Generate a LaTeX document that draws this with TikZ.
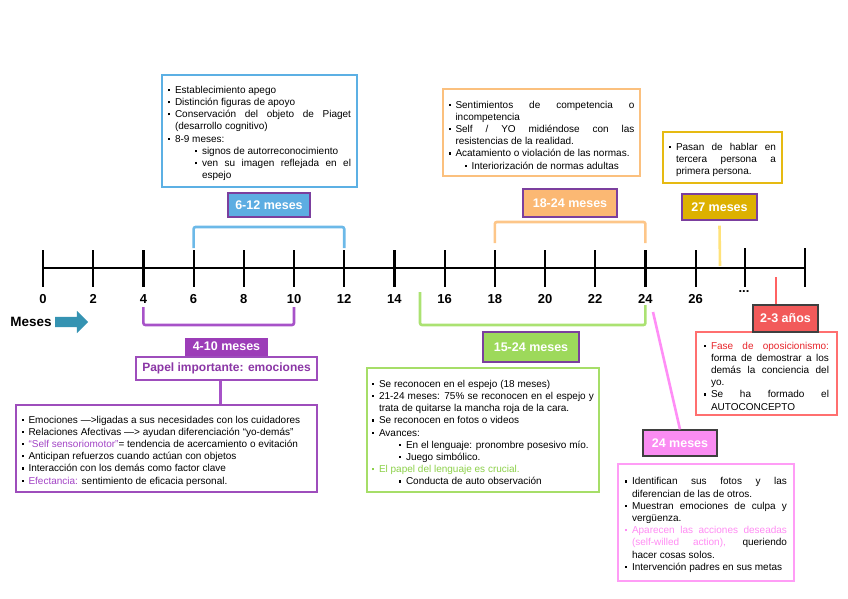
\documentclass[tikz,border=0pt]{standalone}
\usepackage{fontspec}
\setmainfont{Liberation Sans}
\usetikzlibrary{positioning,shapes.arrows}

\definecolor{tagline}{HTML}{7B3F9E}
\definecolor{tagdark}{HTML}{3F3F3F}
\definecolor{c612}{HTML}{5DADE2}
\definecolor{c612box}{HTML}{5CB0E4}
\definecolor{c612line}{HTML}{6CB9E8}
\definecolor{c1824}{HTML}{FBB873}
\definecolor{c1824box}{HTML}{FBC07E}
\definecolor{c1824line}{HTML}{FDC689}
\definecolor{c27}{HTML}{DDB100}
\definecolor{c27box}{HTML}{E6BA12}
\definecolor{c27line}{HTML}{FFE27A}
\definecolor{c410}{HTML}{9C3DB8}
\definecolor{c410box}{HTML}{9E4DBC}
\definecolor{c410line}{HTML}{A752C8}
\definecolor{c410txt}{HTML}{8B36A6}
\definecolor{c1524}{HTML}{9DD95B}
\definecolor{c1524box}{HTML}{A6DE68}
\definecolor{c1524line}{HTML}{ABE272}
\definecolor{c24}{HTML}{FA8CF2}
\definecolor{c24box}{HTML}{FF9DF6}
\definecolor{c24line}{HTML}{FF8EF6}
\definecolor{c23}{HTML}{F25A5A}
\definecolor{c23box}{HTML}{FF6F6F}
\definecolor{c23line}{HTML}{FF6262}
\definecolor{c23txt}{HTML}{E8242A}
\definecolor{cflecha}{HTML}{3593B2}
\definecolor{txtpurple}{HTML}{A344C6}
\definecolor{txtgreen}{HTML}{8DD14A}
\definecolor{txtpink}{HTML}{FF8DF4}

\newcommand{\blt}{\raisebox{2.3pt}{\rule{2.2pt}{2.2pt}}}
\newcommand{\itm}[2][black]{\par\hangindent=7pt\hangafter=1\noindent{\color{#1}\hbox to 7pt{\blt\hfil}}#2}
\newcommand{\sitm}[2][27pt]{\par\hangindent=\dimexpr#1+7pt\relax\hangafter=1\noindent\hskip#1\hbox to 7pt{\blt\hfil}#2}

\tikzset{
  tag/.style={draw=tagline, line width=1.2pt, text=white, minimum height=24pt,
    font=\bfseries\fontsize{12.5}{14}\selectfont, inner sep=2pt},
  info/.style={draw, line width=2.2pt, fill=white, align=justify, inner xsep=5pt, inner ysep=4pt,
    font=\fontsize{10}{12.2}\selectfont,
    execute at begin node={\spaceskip=2.8pt plus 12pt minus .4pt\relax\hyphenpenalty=10000\exhyphenpenalty=10000\relax}},
  bracket/.style={line width=2.6pt, rounded corners=2pt},
  tick/.style={line width=2.2pt},
  ticklab/.style={font=\bfseries\fontsize{13}{15}\selectfont, inner sep=0pt},
}

\begin{document}
\begin{tikzpicture}[x=1pt,y=-1pt]
\useasboundingbox (0,0) rectangle (848,599);

% eje de meses
\foreach \v [count=\i from 0] in {0,2,...,26} {
  \coordinate (t\v) at ({43+50.2*\i},268);
  \draw[tick] ([yshift=18pt]t\v) -- ([yshift=-19pt]t\v);
  \node[ticklab] (l\v) at ({43+50.2*\i},299) {\v};
}
\coordinate (tdots) at (745,268);
\coordinate (tend) at (805,268);
\draw[tick] ([yshift=20pt]tdots) -- ([yshift=-19pt]tdots);
\draw[tick] ([yshift=20pt]tend) -- ([yshift=-19pt]tend);
\draw[line width=2.2pt] (t0) -- (tend);
\node[ticklab] (ldots) at (744,292) {...};

\node[font=\bfseries\fontsize{13.5}{15}\selectfont, inner sep=0pt] (meses) at (31,322) {Meses};
\node[single arrow, fill=cflecha, inner sep=5pt, minimum height=33pt,
      single arrow head extend=6pt, right=3pt of meses] (flecha) {};

% 6-12 meses
\draw[bracket, c612line] ([yshift=20pt]t6) |- ([yshift=41pt]t12) -- ([yshift=20pt]t12);
\node[tag, fill=c612, minimum width=82pt] (m612) at (269,205) {6-12 meses};
\node[info, draw=c612box, text width=183pt, minimum width=195pt, minimum height=112pt] (i612) at (259.5,131) {%
  \itm{Establecimiento apego}
  \itm{Distinción figuras de apoyo}
  \itm{Conservación del objeto de Piaget\linebreak (desarrollo cognitivo)}
  \itm{8-9 meses:}
  \sitm{signos de autorreconocimiento}
  \sitm{ven su imagen reflejada en el\linebreak espejo}\par};

% 18-24 meses
\draw[bracket, c1824line] ([yshift=25pt]t18) |- ([yshift=46pt]t24) -- ([yshift=25pt]t24);
\node[tag, fill=c1824, minimum width=94pt, minimum height=28pt] (m1824) at (570,203) {18-24 meses};
\node[info, draw=c1824box, text width=186pt, minimum width=197pt, minimum height=87pt] (i1824) at (541.5,132.5) {%
  \itm{Sentimientos de competencia o\linebreak incompetencia}
  \itm{Self / YO midiéndose con las\linebreak resistencias de la realidad.}
  \itm{Acatamiento o violación de las normas.}
  \sitm[16pt]{Interiorización de normas adultas}\par};

% 27 meses
\node[tag, fill=c27, minimum width=75pt, minimum height=26pt] (m27) at (719.5,207) {27 meses};
\coordinate (c27) at (720,266);
\draw[line width=2.6pt, c27line] ([yshift=-5pt]m27.south) -- (c27);
\node[info, draw=c27box, text width=107pt, minimum width=119pt, minimum height=51pt] (i27) at (722.5,157.5) {%
  \itm{Pasan de hablar en\linebreak tercera persona a\linebreak primera persona.}\par};

% 4-10 meses
\draw[bracket, c410line] ([yshift=-39pt]t4) |- ([yshift=-57pt]t10) -- ([yshift=-39pt]t10);
\node[draw=c410box, line width=1.6pt, fill=white, text=c410txt, font=\bfseries\fontsize{12}{14}\selectfont,
      minimum width=181pt, minimum height=23pt, inner sep=2pt] (papel) at (226.5,368.5) {Papel importante: emociones};
\node[tag, draw=none, fill=c410, minimum width=83pt, minimum height=18pt, above=0pt of papel] (m410) {4-10 meses};
\node[info, draw=c410box, text width=290pt, minimum width=301pt, minimum height=87pt] (i410) at (166.5,448.5) {%
  \itm{Emociones —>ligadas a sus necesidades con los cuidadores}
  \itm{Relaciones Afectivas —> ayudan diferenciación “yo-demás”}
  \itm{{\color{txtpurple}“Self sensoriomotor”}= tendencia de acercamiento o evitación}
  \itm{Anticipan refuerzos cuando actúan con objetos}
  \itm{Interacción con los demás como factor clave}
  \itm{{\color{txtpurple}Efectancia:} sentimiento de eficacia personal.}\par};
\coordinate (c410) at ([xshift=-6pt]papel.south);
\draw[line width=2.6pt, c410line] (c410) -- (c410 |- i410.north);

% 15-24 meses
\coordinate (c15) at (420,292);
\draw[bracket, c1524line] (c15) |- ([yshift=-57pt]t24) -- ([yshift=-37pt]t24);
\node[tag, fill=c1524, minimum width=96pt, minimum height=30pt] (m1524) at (531,347) {15-24 meses};
\node[info, draw=c1524box, inner xsep=4pt, text width=222pt, minimum width=232pt, minimum height=124pt] (i1524) at (483,430) {%
  \itm{Se reconocen en el espejo (18 meses)}
  \itm{21-24 meses: 75\% se reconocen en el espejo y\linebreak trata de quitarse la mancha roja de la cara.}
  \itm{Se reconocen en fotos o videos}
  \itm{Avances:}
  \sitm[27pt]{En el lenguaje: pronombre posesivo mío.}
  \sitm[27pt]{Juego simbólico.}
  \itm[txtgreen]{{\color{txtgreen}El papel del lenguaje es crucial.}}
  \sitm[27pt]{Conducta de auto observación}\par};

% 24 meses
\coordinate (c24) at (653,312);
\node[tag, draw=tagdark, fill=c24, minimum width=74pt, minimum height=26pt] (m24) at (680,443) {24 meses};
\draw[line width=2.6pt, c24line] (c24) -- (m24.north);
\node[info, draw=c24box, text width=162pt, minimum width=176pt, minimum height=117pt] (i24) at (706,522.5) {%
  \itm{Identifican sus fotos y las\linebreak diferencian de las de otros.}
  \itm{Muestran emociones de culpa y\linebreak vergüenza.}
  \itm[txtpink]{{\color{txtpink}Aparecen las acciones deseadas\linebreak (self-willed action),} queriendo\linebreak hacer cosas solos.}
  \itm{Intervención padres en sus metas}\par};

% 2-3 años
\coordinate (c23) at (776,277);
\node[info, draw=c23box, text width=125pt, minimum width=141pt, minimum height=83pt] (i23) at (766.5,373.5) {%
  \itm{{\color{c23txt}Fase de oposicionismo:}\linebreak forma de demostrar a los\linebreak demás la conciencia del\linebreak yo.}
  \itm{Se ha formado el\linebreak AUTOCONCEPTO}\par};
\node[tag, draw=tagdark, fill=c23, minimum width=65pt, minimum height=27pt] (a23) at (785.5,318.5) {2-3 años};
\draw[line width=2.6pt, c23line] (c23) -- (c23 |- a23.north);
\end{tikzpicture}
\end{document}
